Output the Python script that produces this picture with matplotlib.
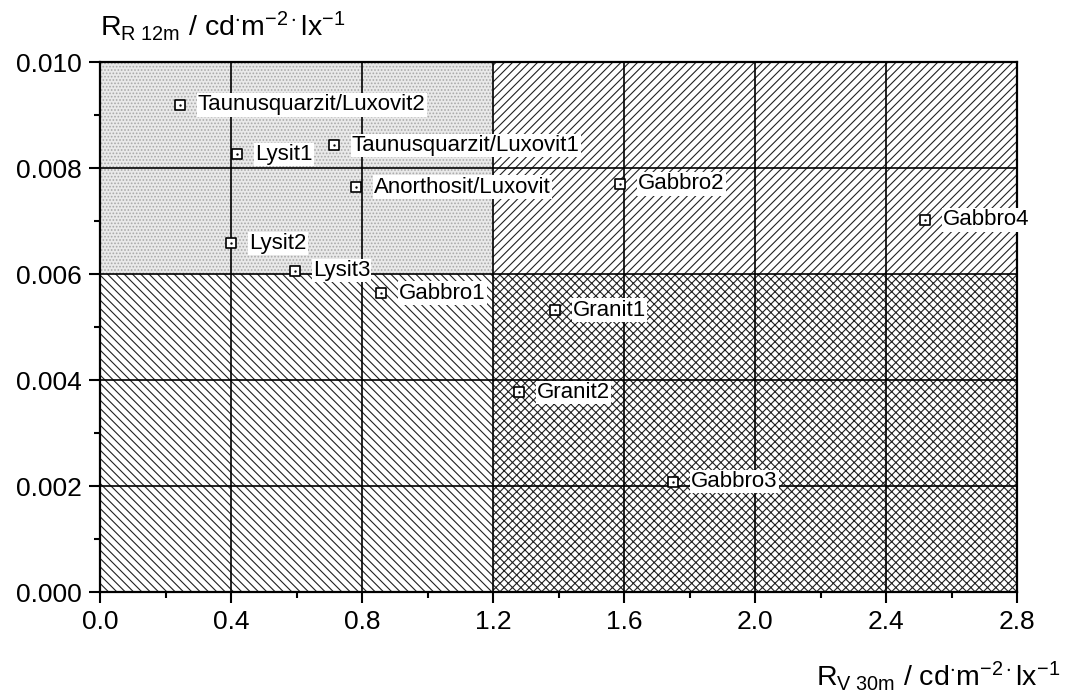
import matplotlib
matplotlib.use("Agg")
import matplotlib.pyplot as plt
from matplotlib.patches import Rectangle
from matplotlib.ticker import MultipleLocator

plt.rcParams['font.family'] = ['Liberation Sans', 'DejaVu Sans']
plt.rcParams['mathtext.fontset'] = 'custom'
plt.rcParams['mathtext.rm'] = 'Liberation Sans'
plt.rcParams['mathtext.it'] = 'Liberation Sans'
plt.rcParams['hatch.linewidth'] = 0.8

# Retroreflection values per stone type
names = ["Taunusquarzit/Luxovit2", "Lysit1", "Taunusquarzit/Luxovit1",
         "Anorthosit/Luxovit", "Gabbro2", "Gabbro4", "Lysit2", "Lysit3",
         "Gabbro1", "Granit1", "Granit2", "Gabbro3"]
rv30 = [0.244, 0.418, 0.714, 0.782, 1.588, 2.519, 0.400, 0.595,
        0.858, 1.389, 1.279, 1.750]
rr12 = [0.00919, 0.00826, 0.00843, 0.00764, 0.00770, 0.00702, 0.00658,
        0.00606, 0.00564, 0.00532, 0.00377, 0.00208]

# class limits
x_lim = (0.0, 2.8)
y_lim = (0.0, 0.010)
x_split = 1.2
y_split = 0.006

fig = plt.figure(figsize=(10.8, 6.99), dpi=100)
ax = fig.add_axes([100/1080, 1-592/699, 917/1080, 530/699])

# four quadrants with different fill patterns
quads = [
    ((x_lim[0], y_split), x_split - x_lim[0], y_lim[1] - y_split, '#e9e9e9', '.....', '#a8a8a8'),
    ((x_split, y_split), x_lim[1] - x_split, y_lim[1] - y_split, 'white', '////', '#222222'),
    ((x_lim[0], y_lim[0]), x_split - x_lim[0], y_split - y_lim[0], 'white', '\\\\\\\\', '#222222'),
    ((x_split, y_lim[0]), x_lim[1] - x_split, y_split - y_lim[0], 'white', 'xxxx', '#222222'),
]
for xy, w, h, fc, hatch, ec in quads:
    ax.add_patch(Rectangle(xy, w, h, facecolor=fc, hatch=hatch, edgecolor=ec,
                           linewidth=0, zorder=1))

ax.set_xlim(*x_lim)
ax.set_ylim(*y_lim)
ax.xaxis.set_major_locator(MultipleLocator(0.4))
ax.xaxis.set_minor_locator(MultipleLocator(0.2))
ax.yaxis.set_major_locator(MultipleLocator(0.002))
ax.yaxis.set_minor_locator(MultipleLocator(0.001))
ax.xaxis.set_major_formatter(matplotlib.ticker.FormatStrFormatter('%.1f'))
ax.yaxis.set_major_formatter(matplotlib.ticker.FormatStrFormatter('%.3f'))

ax.set_axisbelow(False)
ax.grid(True, which='major', color='black', linewidth=1.2)
for gl in ax.get_xgridlines() + ax.get_ygridlines():
    gl.set_zorder(2)

ax.tick_params(which='both', direction='out', width=1.5, labelsize=19,
               top=False, right=False)
ax.tick_params(which='major', length=8, pad=5)
ax.tick_params(which='minor', length=4)
for s in ax.spines.values():
    s.set_linewidth(1.6)
    s.set_zorder(6)

ax.scatter(rv30, rr12, marker='s', s=55, facecolors='white', edgecolors='black',
           linewidths=1.2, zorder=5)
ax.scatter(rv30, rr12, marker='.', s=2, color='black', zorder=6)

for n, x, y in zip(names, rv30, rr12):
    ax.annotate(n, (x, y), xytext=(13, 0), textcoords='offset points',
                va='center', ha='left', fontsize=16, zorder=7,
                bbox=dict(boxstyle='square,pad=0.05', facecolor='white',
                          edgecolor='none'))

fig.text(100/1080, 1-36/699,
         r'$\mathregular{R_{R\ 12m}\ /\ cd^{\cdot}m^{-2\cdot}lx^{-1}}$',
         fontsize=20.5, ha='left', va='baseline')
fig.text(1060/1080, 1-686/699,
         r'$\mathregular{R_{V\ 30m}\ /\ cd^{\cdot}m^{-2\cdot}lx^{-1}}$',
         fontsize=20.5, ha='right', va='baseline')

fig.savefig('out.png', dpi=100)
